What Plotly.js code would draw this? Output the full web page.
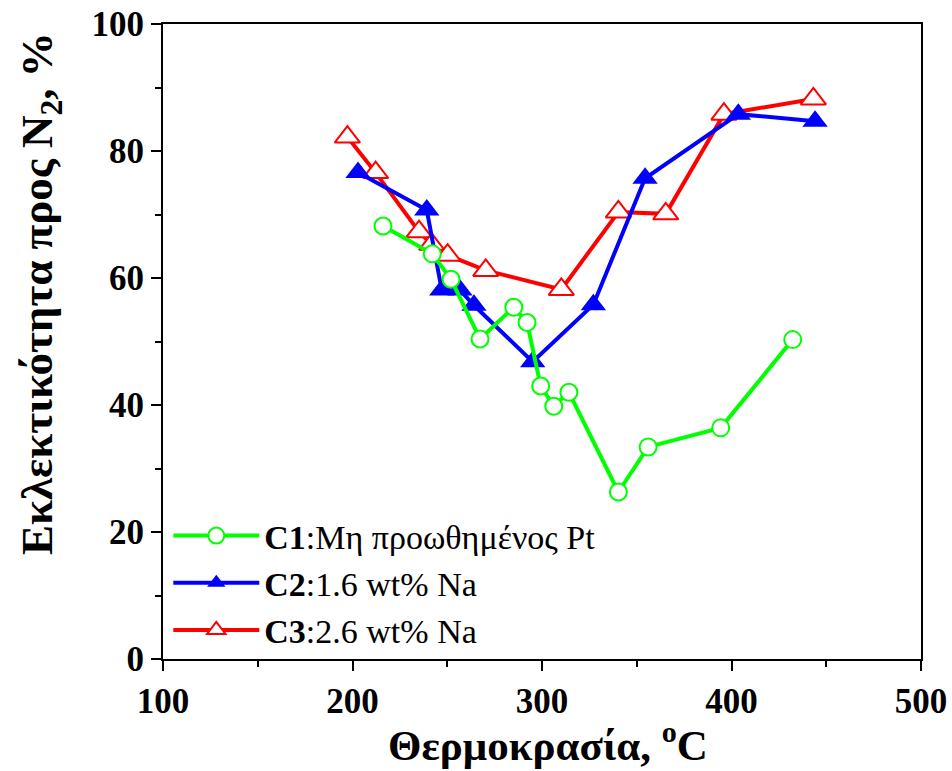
<!DOCTYPE html>
<html>
<head>
<meta charset="utf-8">
<script src="https://cdn.plot.ly/plotly-3.0.1.min.js"></script>
<style>html,body{margin:0;padding:0;background:#fff;}</style>
</head>
<body>
<div id="chart" style="width:952px;height:771px;"></div>
<script>
// C1: unpromoted Pt
const c1Temp = [216.1, 242.1, 252.0, 267.3, 285.1, 292.1, 299.3, 306.2, 314.2, 340.3, 356.0, 394.3, 432.3];
const c1Sel  = [68.2, 63.8, 59.8, 50.4, 55.4, 53.0, 43.0, 39.8, 42.0, 26.3, 33.4, 36.4, 50.3];
// C2: 1.6 wt% Na
const c2Temp = [202.9, 239.2, 247.1, 256.7, 264.1, 295.1, 327.1, 354.4, 403.6, 444.1];
const c2Sel  = [76.6, 70.7, 58.1, 58.1, 55.7, 46.8, 55.8, 75.7, 85.8, 84.7];
// C3: 2.6 wt% Na
const c3Temp = [197.3, 212.2, 235.1, 241.8, 250.2, 270.3, 310.2, 340.3, 365.3, 396.0, 443.2];
const c3Sel  = [82.2, 76.6, 67.3, 65.3, 63.6, 61.2, 58.2, 70.4, 70.1, 85.8, 88.2];

const seriesNames = [
  '<b>C1</b>:Μη προωθημένος Pt',
  '<b>C2</b>:1.6 wt% Na',
  '<b>C3</b>:2.6 wt% Na'
];
const xTitle = '<b>Θερμοκρασία, <sup>o</sup>C</b>';
const yTitle = '<b>Εκλεκτικότητα προς N<sub>2</sub>, %</b>';

const FONT = 'Liberation Serif, Times New Roman, serif';

const traces = [
  {
    x: c3Temp, y: c3Sel, name: seriesNames[2], legendrank: 3,
    mode: 'lines+markers', type: 'scatter',
    line: {color: '#FF0000', width: 4},
    marker: {symbol: 'triangle-up', size: 22, color: '#FFFFFF', line: {color: '#FF0000', width: 2}}
  },
  {
    x: c2Temp, y: c2Sel, name: seriesNames[1], legendrank: 2,
    mode: 'lines+markers', type: 'scatter',
    line: {color: '#0000FF', width: 4},
    marker: {symbol: 'triangle-up', size: 22, color: '#0000FF', line: {width: 0}}
  },
  {
    x: c1Temp, y: c1Sel, name: seriesNames[0], legendrank: 1,
    mode: 'lines+markers', type: 'scatter',
    line: {color: '#00FF00', width: 4},
    marker: {symbol: 'circle', size: 17, color: '#FFFFFF', line: {color: '#00FF00', width: 2}}
  }
];

const axisCommon = {
  showgrid: false, zeroline: false,
  showline: true, linecolor: '#000', linewidth: 2, mirror: true,
  ticks: 'outside', ticklen: 10, tickwidth: 2, tickcolor: '#000',
  tickfont: {family: FONT, size: 35, color: '#000', weight: 'bold'}
};

const layout = {
  width: 952, height: 771,
  margin: {l: 163, r: 31, t: 24, b: 112},
  paper_bgcolor: '#fff', plot_bgcolor: '#fff',
  showlegend: true,
  legend: {
    x: 0.007, y: 0.0, xanchor: 'left', yanchor: 'bottom',
    bgcolor: 'rgba(0,0,0,0)', borderwidth: 0,
    font: {family: FONT, size: 34, color: '#000'},
    itemwidth: 86, tracegroupgap: 0
  },
  xaxis: Object.assign({}, axisCommon, {
    range: [100, 500], dtick: 100, tick0: 100,
    minor: {dtick: 50, ticks: 'outside', ticklen: 6, tickwidth: 2, tickcolor: '#000'}
  }),
  yaxis: Object.assign({}, axisCommon, {
    range: [0, 100], dtick: 20, tick0: 0,
    minor: {dtick: 10, ticks: 'outside', ticklen: 6, tickwidth: 2, tickcolor: '#000'}
  }),
  annotations: [
    {text: xTitle, xref: 'paper', yref: 'paper', x: 0.508, y: -0.13, xanchor: 'center', yanchor: 'middle',
     showarrow: false, font: {family: FONT, size: 43, color: '#000'}},
    {text: yTitle, xref: 'paper', yref: 'paper', x: -0.162, y: 0.575, xanchor: 'center', yanchor: 'middle',
     textangle: -90, showarrow: false, font: {family: FONT, size: 45, color: '#000'}}
  ]
};

Plotly.newPlot('chart', traces, layout, {displayModeBar: false, staticPlot: true});
</script>
</body>
</html>
